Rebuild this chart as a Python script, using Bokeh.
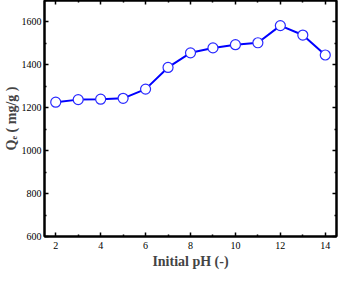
from bokeh.plotting import figure
from bokeh.models import LinearAxis, FixedTicker, Range1d
from bokeh.embed import file_html
from bokeh.resources import INLINE

ph = [2, 3, 4, 5, 6, 7, 8, 9, 10, 11, 12, 13, 14]
qe = [1226, 1238, 1240, 1244, 1287, 1388, 1456, 1479, 1494, 1503, 1583, 1539, 1446]
x_ticks = [2, 4, 6, 8, 10, 12, 14]
x_minor = [3, 5, 7, 9, 11, 13]
y_ticks = [600, 800, 1000, 1200, 1400, 1600]
y_minor = [700, 900, 1100, 1300, 1500, 1700]

FONT = "Liberation Serif"

p = figure(width=338, height=271, output_backend="svg", toolbar_location=None,
           x_range=Range1d(1.5, 14.5), y_range=Range1d(600, 1700),
           x_axis_location=None, y_axis_location=None,
           min_border_left=37, min_border_right=2, min_border_top=0, min_border_bottom=33)
p.grid.visible = False
p.outline_line_color = "black"
p.outline_line_width = 2
p.background_fill_color = "white"
p.border_fill_color = "white"

def mk_axis(ticks, minor, labels=True):
    ax = LinearAxis()
    ax.ticker = FixedTicker(ticks=ticks, minor_ticks=minor)
    ax.axis_line_color = "black"
    ax.axis_line_width = 2
    ax.major_tick_in = 4
    ax.major_tick_out = 0
    ax.minor_tick_in = 2
    ax.minor_tick_out = 0
    ax.major_tick_line_width = 1.5
    ax.minor_tick_line_width = 1.5
    ax.major_tick_line_color = "black"
    ax.minor_tick_line_color = "black"
    ax.major_label_text_font = FONT
    ax.major_label_text_font_size = "10px"
    ax.major_label_text_color = "black"
    if not labels:
        ax.major_label_standoff = 0
        ax.major_label_overrides = {t: "" for t in ticks}
    return ax

xb = mk_axis(x_ticks, x_minor)
xb.major_label_standoff = 5
xb.axis_label = "Initial pH (-)"
xb.axis_label_text_font = FONT
xb.axis_label_text_font_style = "bold"
xb.axis_label_text_font_size = "14px"
xb.axis_label_standoff = 2
p.add_layout(xb, "below")

yl = mk_axis(y_ticks, y_minor)
yl.major_label_standoff = 3
yl.axis_label = "Q\u2091 ( mg/g )"
yl.axis_label_text_font = FONT
yl.axis_label_text_font_style = "bold"
yl.axis_label_text_font_size = "14px"
yl.axis_label_standoff = 0
p.add_layout(yl, "left")

xt = mk_axis(x_ticks, x_minor, labels=False)
p.add_layout(xt, "above")
yr = mk_axis(y_ticks, y_minor, labels=False)
p.add_layout(yr, "right")

p.line(ph, qe, line_color="#0000ff", line_width=2)
p.scatter(ph, qe, marker="circle", size=10, fill_color="white",
          line_color="#2a2aff", line_width=1.2)

open("out.html", "w").write(file_html(p, INLINE))
